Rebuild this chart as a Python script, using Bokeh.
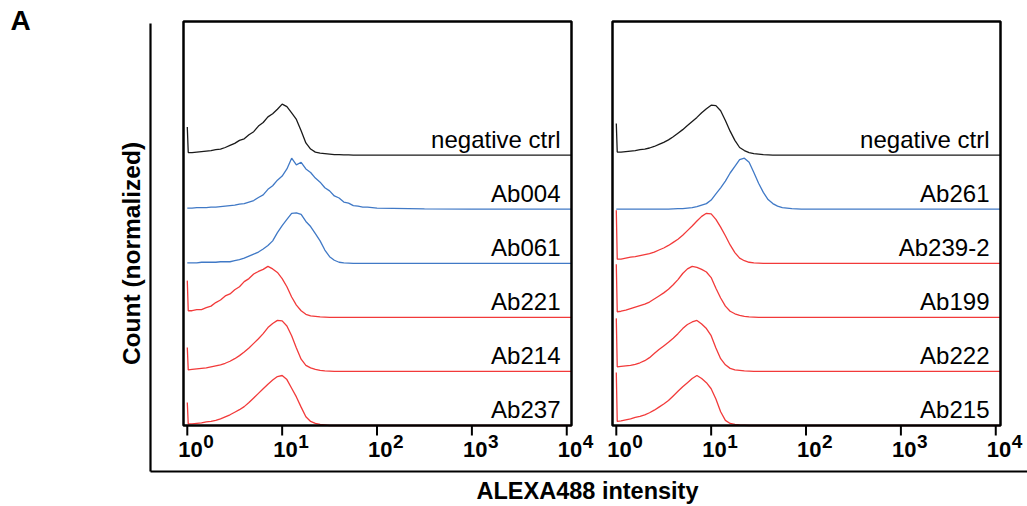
import math
from bokeh.plotting import figure
from bokeh.models import Range1d, LogScale
from bokeh.embed import file_html
from bokeh.resources import INLINE
from bokeh.core.properties import value

FONT = "Liberation Sans"

# ---------------- data ----------------
# histogram bins (log10 of ALEXA488 intensity)
LOG_BINS = [0.00, 0.01, 0.05, 0.10, 0.15, 0.20, 0.25, 0.30, 0.35, 0.40,
            0.45, 0.50, 0.55, 0.60, 0.65, 0.70, 0.75, 0.80, 0.85, 0.90,
            0.95, 1.00, 1.05, 1.10, 1.15, 1.20, 1.25, 1.30, 1.35, 1.40,
            1.45, 1.50, 1.55, 1.60, 1.65, 1.70, 1.75, 1.80, 1.85, 1.90,
            1.95, 2.00, 2.50, 3.00, 3.50, 4.05]

TICK_EXPONENTS = [0, 1, 2, 3, 4]
TICK_BASE = "10"

LEFT_NAMES = ["negative ctrl", "Ab004", "Ab061", "Ab221", "Ab214", "Ab237"]
LEFT_KINDS = ["ctrl", "pos", "pos", "neg", "neg", "neg"]
RIGHT_NAMES = ["negative ctrl", "Ab261", "Ab239-2", "Ab199", "Ab222", "Ab215"]
RIGHT_KINDS = ["ctrl", "pos", "neg", "neg", "neg", "neg"]

# normalized counts (peak ~100)
L_NEG = [55, 5, 5, 6, 7, 8, 9, 11, 12, 15,
         19, 23, 29, 32, 40, 46, 57, 64, 75, 81,
         90, 100, 95, 83, 70, 48, 24, 12, 6, 4,
         3, 2, 1, 1, 0.5, 0.5, 0, 0, 0, 0,
         0, 0, 0, 0, 0, 0]
L_AB004 = [2, 2, 2, 3, 3, 3, 4, 4, 5, 6,
           7, 8, 10, 11, 14, 17, 23, 28, 39, 46,
           57, 65, 79, 100, 87, 92, 79, 72, 61, 53,
           42, 36, 26, 22, 14, 12, 7, 6, 4, 4,
           3, 2, 0.5, 0, 0, 0]
L_AB061 = [1, 1, 1, 1, 2, 2, 2, 2, 3, 3,
           3, 5, 7, 10, 14, 18, 22, 28, 35, 44,
           60, 74, 86, 98, 99, 96, 82, 72, 58, 44,
           26, 13, 6, 2, 1, 0.5, 0, 0, 0, 0,
           0, 0, 0, 0, 0, 0]
L_AB221 = [72, 13, 13, 15, 15, 19, 22, 29, 34, 42,
           46, 54, 60, 70, 76, 85, 90, 94, 100, 95,
           88, 76, 60, 40, 24, 13, 6, 3, 2, 1,
           0.5, 0, 0, 0, 0, 0, 0, 0, 0, 0,
           0, 0, 0, 0, 0, 0]
L_AB214 = [47, 3, 4, 5, 6, 7, 9, 11, 13, 16,
           20, 25, 31, 38, 46, 55, 64, 74, 86, 94,
           100, 99, 89, 70, 46, 24, 12, 7, 4, 2,
           1, 0.5, 0, 0, 0, 0, 0, 0, 0, 0,
           0, 0, 0, 0, 0, 0]
L_AB237 = [45, 3, 3, 4, 5, 7, 8, 10, 13, 17,
           21, 26, 31, 37, 45, 54, 63, 72, 81, 89,
           96, 98, 90, 73, 56, 36, 17, 8, 4, 2,
           1, 0, 0, 0, 0, 0, 0, 0, 0, 0,
           0, 0, 0, 0, 0, 0]

R_NEG = [62, 6, 6, 7, 8, 9, 11, 12, 14, 17,
         21, 25, 30, 36, 43, 50, 58, 66, 74, 83,
         91, 98, 97, 87, 68, 47, 29, 15, 9, 5,
         3, 2, 1, 0.5, 0, 0, 0, 0, 0, 0,
         0, 0, 0, 0, 0, 0]
R_AB261 = [0, 0, 0, 0, 0, 0, 0, 0, 0, 0,
           0, 0, 0, 0.5, 1, 1, 2, 3, 5, 8,
           11, 18, 30, 42, 55, 71, 84, 97, 100, 92,
           72, 51, 33, 19, 11, 6, 3, 2, 1, 0.5,
           0, 0, 0, 0, 0, 0]
R_AB239 = [104, 8, 8, 10, 12, 13, 15, 17, 19, 22,
           26, 30, 35, 41, 47, 55, 64, 73, 83, 92,
           98, 97, 86, 71, 54, 36, 21, 10, 5, 2,
           1, 0.5, 0, 0, 0, 0, 0, 0, 0, 0,
           0, 0, 0, 0, 0, 0]
R_AB199 = [104, 11, 12, 14, 17, 20, 23, 26, 30, 36,
           42, 48, 55, 64, 74, 86, 95, 100, 98, 94,
           89, 78, 57, 38, 22, 12, 7, 4, 2, 1,
           0.5, 0, 0, 0, 0, 0, 0, 0, 0, 0,
           0, 0, 0, 0, 0, 0]
R_AB222 = [104, 9, 10, 11, 12, 14, 17, 21, 27, 35,
           43, 50, 57, 65, 74, 84, 92, 97, 100, 93,
           84, 70, 46, 25, 13, 6, 3, 2, 1, 0.5,
           0, 0, 0, 0, 0, 0, 0, 0, 0, 0,
           0, 0, 0, 0, 0, 0]
R_AB215 = [104, 8, 9, 11, 13, 16, 18, 21, 25, 30,
           36, 42, 49, 58, 67, 76, 84, 92, 98, 92,
           84, 72, 52, 27, 10, 4, 2, 1, 0.5, 0,
           0, 0, 0, 0, 0, 0, 0, 0, 0, 0,
           0, 0, 0, 0, 0, 0]

LEFT_SERIES = [L_NEG, L_AB004, L_AB061, L_AB221, L_AB214, L_AB237]
RIGHT_SERIES = [R_NEG, R_AB261, R_AB239, R_AB199, R_AB222, R_AB215]

# ---------------- style / layout ----------------
W, H = 1027, 506
COLORS = {"ctrl": "#1a1a1a", "pos": "#4079c6", "neg": "#f23a3a"}
X_MIN, X_MAX = -0.04, 4.05          # visible decades inside each panel box
BOX_T, BOX_B = 21, 425              # panel box top / bottom (px)
PANELS = [(183, 571), (612, 1000)]  # panel box left / right (px)
BOX_W = 388
DEC = BOX_W / (X_MAX - X_MIN)       # px per decade
Y_BOX = 792.0                       # data units spanning the box height
TRACK = 106.0                       # vertical spacing of stacked histograms
PX = Y_BOX / (BOX_B - BOX_T)        # data units per pixel
TOP_PAD = 0.19                      # em gap between "top" anchor and cap top

extra_x_ranges = {}
extra_x_scales = {}
for k, (bl, br) in enumerate(PANELS):
    name = "panel%d" % k
    extra_x_ranges[name] = Range1d(10 ** (X_MIN - bl / DEC), 10 ** (X_MAX + (W - br) / DEC))
    extra_x_scales[name] = LogScale()

p = figure(width=W, height=H, x_range=Range1d(0, W), y_range=Range1d(H, 0),
           x_axis_location=None, y_axis_location=None, min_border=0,
           output_backend="svg", toolbar_location=None, title=None,
           background_fill_color="white", border_fill_color="white")
p.extra_x_ranges = extra_x_ranges
p.extra_x_scales = extra_x_scales
p.extra_y_ranges = {"counts": Range1d(-(H - BOX_B) * PX, Y_BOX + BOX_T * PX)}
p.outline_line_color = None
p.grid.visible = False

ticks = [10 ** e for e in TICK_EXPONENTS]
xs = [10 ** b for b in LOG_BINS]

LABEL_FS, TICK_FS, EXP_FS = 24, 22, 19

for k, (names, kinds, series) in enumerate([(LEFT_NAMES, LEFT_KINDS, LEFT_SERIES),
                                            (RIGHT_NAMES, RIGHT_KINDS, RIGHT_SERIES)]):
    xr = "panel%d" % k
    kw = dict(x_range_name=xr, y_range_name="counts")
    n = len(names)
    # histograms
    for i, (kind, vals) in enumerate(zip(kinds, series)):
        off = (n - 1 - i) * TRACK
        p.line(xs, [off + v for v in vals], line_color=COLORS[kind], line_width=1.3, **kw)
    # sample labels (cap top 24.5 px above each baseline)
    p.text(x=[10 ** X_MAX] * n,
           y=[(n - 1 - i) * TRACK + (24.5 + TOP_PAD * LABEL_FS) * PX for i in range(n)],
           text=names, text_align="right", text_baseline="top",
           x_offset=-11, text_font=value(FONT), text_font_size="%dpx" % LABEL_FS,
           text_color="black", **kw)
    # panel box
    p.quad(left=[10 ** X_MIN], right=[10 ** X_MAX], bottom=[0], top=[Y_BOX],
           fill_color=None, line_color="black", line_width=2.5, **kw)
    # ticks and tick labels (10 with superscript exponent)
    p.segment(x0=ticks, y0=[0] * len(ticks), x1=ticks, y1=[-10 * PX] * len(ticks),
              line_color="black", line_width=2, **kw)
    p.text(x=ticks, y=[-(21 - TOP_PAD * TICK_FS) * PX] * len(ticks), text=[TICK_BASE] * len(ticks),
           x_offset=-9, text_align="left", text_baseline="top",
           text_font=value(FONT), text_font_style="bold", text_font_size="%dpx" % TICK_FS,
           text_color="black", **kw)
    p.text(x=ticks, y=[-(13 - TOP_PAD * EXP_FS) * PX] * len(ticks), text=[str(e) for e in TICK_EXPONENTS],
           x_offset=16, text_align="left", text_baseline="top",
           text_font=value(FONT), text_font_style="bold", text_font_size="%dpx" % EXP_FS,
           text_color="black", **kw)

# outer L-shaped frame
p.segment(x0=[150, 150], y0=[23, 471], x1=[150, W], y1=[471, 471],
          line_color="black", line_width=2.2)
# panel letter and axis titles
p.text(x=[10], y=[10 - TOP_PAD * 28], text=["A"], text_font=value(FONT), text_font_style="bold",
       text_font_size="28px", text_baseline="top", text_align="left", text_color="black")
p.text(x=[122 - TOP_PAD * 24.5], y=[253], text=["Count (normalized)"], angle=math.pi / 2,
       text_font=value(FONT), text_font_style="bold", text_font_size="24.5px",
       text_align="center", text_baseline="top", text_color="black")
p.text(x=[587], y=[482 - TOP_PAD * 23.5], text=["ALEXA488 intensity"], text_font=value(FONT),
       text_font_style="bold", text_font_size="23.5px", text_align="center",
       text_baseline="top", text_color="black")

open("out.html", "w").write(file_html(p, INLINE))
